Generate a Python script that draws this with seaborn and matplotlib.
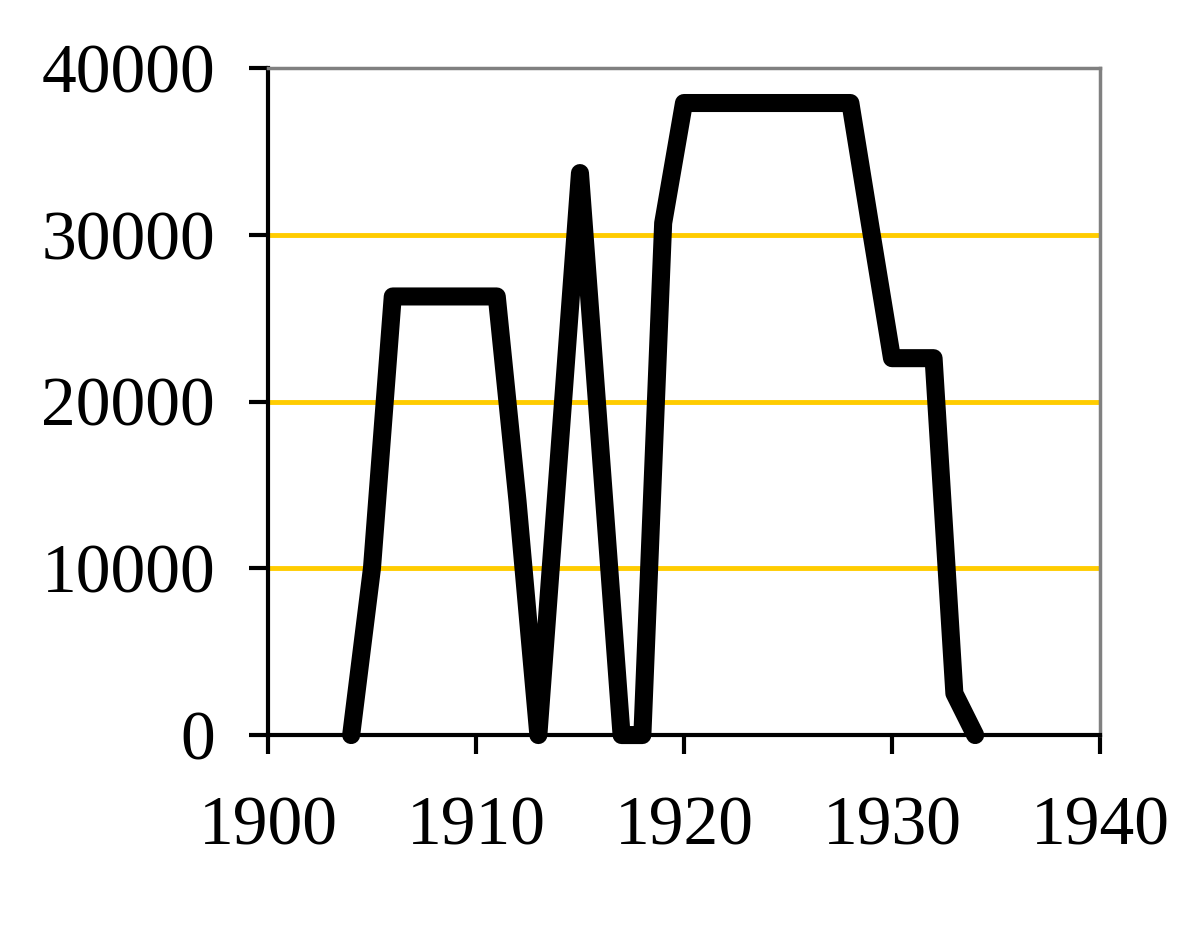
import matplotlib
matplotlib.use("Agg")
import matplotlib.pyplot as plt
import pandas as pd
import seaborn as sns


YEARS = [1904, 1905, 1906, 1911, 1912, 1913, 1915, 1917, 1918, 1919,
         1920, 1928, 1929, 1930, 1932, 1933, 1934]
VALUES = [0, 10000, 26300, 26300, 14000, 0, 33700, 0, 0, 30700,
          37900, 37900, 30200, 22600, 22600, 2500, 0]

X_TICKS = [1900, 1910, 1920, 1930, 1940]
Y_TICKS = [0, 10000, 20000, 30000, 40000]

GRID_COLOR = "#FFCC00"
FRAME_GRAY = "#808080"


def main() -> None:
    sns.set_theme(style="white")
    plt.rcParams["font.family"] = ["Liberation Serif", "DejaVu Serif"]

    data = pd.DataFrame({"year": YEARS, "value": VALUES})

    fig = plt.figure(figsize=(11.92, 9.34), dpi=100)
    ax = fig.add_axes([0.2248, 0.213, 0.698, 0.7142])

    sns.lineplot(
        data=data,
        x="year",
        y="value",
        ax=ax,
        sort=False,
        estimator=None,
        color="black",
        linewidth=13,
        solid_capstyle="round",
        solid_joinstyle="round",
        clip_on=False,
        zorder=5,
    )

    ax.set_xlim(X_TICKS[0], X_TICKS[-1])
    ax.set_ylim(Y_TICKS[0], Y_TICKS[-1])
    ax.set_xticks(X_TICKS)
    ax.set_yticks(Y_TICKS)
    ax.set_xlabel("")
    ax.set_ylabel("")

    ax.grid(axis="y", color=GRID_COLOR, linewidth=3.5)
    ax.grid(axis="x", visible=False)
    gridlines = ax.get_ygridlines()
    gridlines[0].set_visible(False)
    gridlines[-1].set_visible(False)

    for side in ["left", "bottom"]:
        ax.spines[side].set_color("black")
        ax.spines[side].set_linewidth(3)
    for side in ["top", "right"]:
        ax.spines[side].set_color(FRAME_GRAY)
        ax.spines[side].set_linewidth(2.5)

    ax.tick_params(axis="both", direction="out", length=14, width=3,
                   color="black", labelsize=50, labelcolor="black")
    ax.tick_params(axis="y", pad=24, left=True)
    ax.tick_params(axis="x", pad=30, bottom=True)

    fig.savefig("out.png", dpi=100, facecolor="white")
    plt.close(fig)


if __name__ == "__main__":
    main()
